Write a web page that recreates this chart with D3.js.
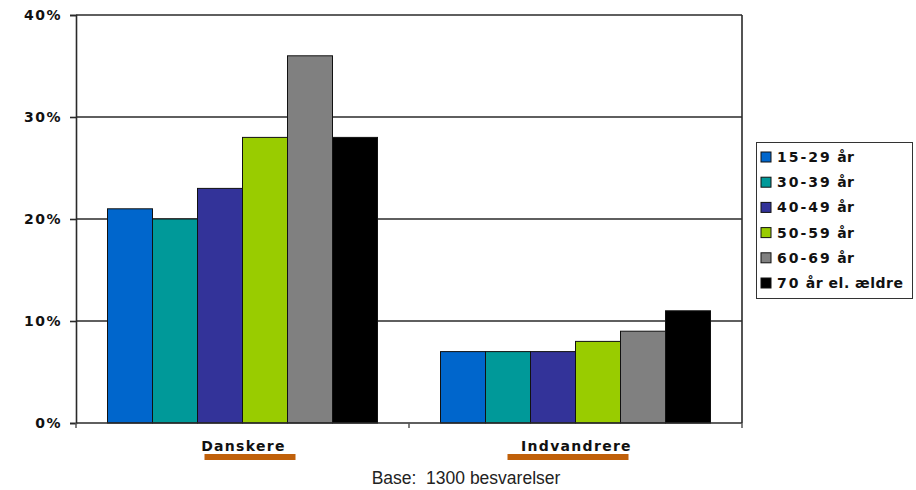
<!DOCTYPE html>
<html>
<head>
<meta charset="utf-8">
<script src="https://cdn.jsdelivr.net/npm/d3@7"></script>
<style>
  html, body { margin: 0; padding: 0; background: #fff; }
  svg { display: block; }
</style>
</head>
<body>
<svg id="chart" width="916" height="490"></svg>
<script>
const categories = ["Danskere", "Indvandrere"];
const seriesNames = ["15-29 år", "30-39 år", "40-49 år", "50-59 år", "60-69 år", "70 år el. ældre"];
const seriesColors = ["#0066CC", "#009999", "#333399", "#99CC00", "#808080", "#000000"];
const danskereValues = [21, 20, 23, 28, 36, 28];
const indvandrereValues = [7, 7, 7, 8, 9, 11];
const yTicks = [0, 10, 20, 30, 40];
const footnote = "Base:  1300 besvarelser";

const valuesByCategory = [danskereValues, indvandrereValues];

const svg = d3.select("#chart");
const m = { left: 76, right: 742, top: 15, bottom: 423 };

const x0 = d3.scaleBand().domain(categories).range([m.left, m.right]).paddingInner(0).paddingOuter(0);
const x1 = d3.scaleBand().domain(seriesNames).range([0, x0.bandwidth()]).paddingInner(0).paddingOuter(0.7);
const y = d3.scaleLinear().domain([0, 40]).range([m.bottom, m.top]);

// Gridlines
svg.append("g").selectAll("line").data(yTicks.filter(d => d > 0)).join("line")
  .attr("x1", m.left).attr("x2", m.right)
  .attr("y1", d => y(d)).attr("y2", d => y(d))
  .attr("stroke", "#2a2a2a").attr("stroke-width", 1.6);

// Right border
svg.append("line").attr("x1", m.right).attr("x2", m.right).attr("y1", m.top).attr("y2", m.bottom)
  .attr("stroke", "#2a2a2a").attr("stroke-width", 1.6);

// Bars
const groups = svg.append("g").selectAll("g").data(categories).join("g")
  .attr("transform", d => `translate(${x0(d)},0)`);
groups.selectAll("rect").data((c, i) => valuesByCategory[i].map((v, j) => ({ name: seriesNames[j], v, color: seriesColors[j] })))
  .join("rect")
  .attr("x", d => x1(d.name))
  .attr("y", d => y(d.v))
  .attr("width", x1.bandwidth())
  .attr("height", d => y(0) - y(d.v))
  .attr("fill", d => d.color)
  .attr("stroke", "#111")
  .attr("stroke-width", 1);

// Y axis
const yAxis = d3.axisLeft(y).tickValues(yTicks).tickFormat(d => d + "%").tickSize(6).tickPadding(8);
const yg = svg.append("g").attr("transform", `translate(${m.left},0)`).call(yAxis);
yg.select(".domain").attr("stroke", "#2a2a2a").attr("stroke-width", 1.6);
yg.selectAll(".tick line").attr("stroke", "#2a2a2a").attr("stroke-width", 1.6);
yg.selectAll(".tick text")
  .attr("font-family", "DejaVu Sans, Verdana, sans-serif")
  .attr("font-weight", "bold").attr("font-size", 14)
  .attr("letter-spacing", "1.5px")
  .attr("fill", "#111");

// X axis
const xg = svg.append("g").attr("transform", `translate(0,${m.bottom})`);
xg.append("line").attr("x1", m.left).attr("x2", m.right).attr("y1", 0).attr("y2", 0)
  .attr("stroke", "#2a2a2a").attr("stroke-width", 1.6);
const boundaries = [m.left, x0(categories[1]), m.right];
xg.selectAll("line.tk").data(boundaries).join("line").attr("class", "tk")
  .attr("x1", d => d).attr("x2", d => d).attr("y1", 0).attr("y2", 5)
  .attr("stroke", "#555").attr("stroke-width", 1.5);

// Category labels with orange underlines
const labelG = svg.append("g").selectAll("g").data(categories).join("g");
labelG.append("text")
  .attr("x", d => x0(d) + x0.bandwidth() / 2 + 1)
  .attr("y", 451)
  .attr("text-anchor", "middle")
  .attr("font-family", "DejaVu Sans, Verdana, sans-serif")
  .attr("font-weight", "bold").attr("font-size", 14)
  .attr("letter-spacing", "1.3px")
  .attr("fill", "#111")
  .text(d => d);
const underlineWidths = { "Danskere": 91, "Indvandrere": 121 };
labelG.append("rect")
  .attr("x", (d, i) => x0(d) + x0.bandwidth() / 2 + (i === 0 ? 7.5 : -7.5) - underlineWidths[d] / 2)
  .attr("y", 454)
  .attr("width", d => underlineWidths[d])
  .attr("height", 6)
  .attr("fill", "#C0600A");

// Footnote
svg.append("text")
  .attr("x", 466).attr("y", 484)
  .attr("text-anchor", "middle")
  .attr("font-family", "Liberation Sans, Arial, sans-serif")
  .attr("font-size", 17.5)
  .attr("fill", "#222")
  .style("white-space", "pre")
  .text(footnote);

// Legend
const lg = svg.append("g");
lg.append("rect").attr("x", 756.5).attr("y", 142.5).attr("width", 156).attr("height", 156)
  .attr("fill", "#fff").attr("stroke", "#333").attr("stroke-width", 1);
const items = lg.selectAll("g.it").data(seriesNames).join("g").attr("class", "it")
  .attr("transform", (d, i) => `translate(761,${157 + i * 25.2})`);
items.append("rect").attr("x", 0).attr("y", -5).attr("width", 10).attr("height", 10)
  .attr("fill", (d, i) => seriesColors[i]).attr("stroke", "#111").attr("stroke-width", 1);
const lt = items.append("text").attr("x", 16).attr("y", 5)
  .attr("font-family", "DejaVu Sans, Verdana, sans-serif")
  .attr("font-weight", "bold").attr("font-size", 14)
  .attr("fill", "#111");
lt.selectAll("tspan")
  .data(d => d.match(/[0-9-]+|[^0-9-]+/g))
  .join("tspan")
  .attr("letter-spacing", t => /^[0-9-]+$/.test(t) ? "2px" : "0.5px")
  .text(t => t);
</script>
</body>
</html>
